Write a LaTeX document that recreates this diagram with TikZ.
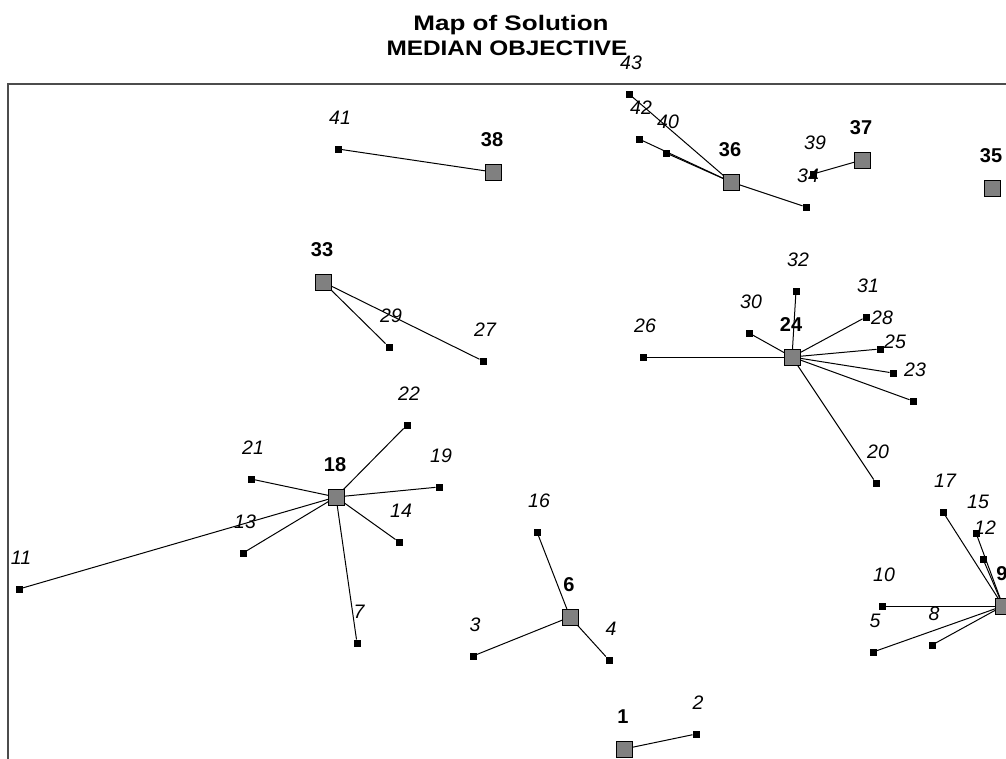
\documentclass[tikz,border=0pt]{standalone}
\usepackage{fontspec}
\setmainfont{Liberation Sans}
\begin{document}
\begin{tikzpicture}[x=1pt,y=-1pt,
  fac/.style={draw=black,line width=1pt,fill=black!50,minimum size=16pt,inner sep=0pt,outer sep=0pt},
  dem/.style={fill=black,minimum size=7pt,inner sep=0pt,outer sep=0pt},
  flab/.style={font=\bfseries\fontsize{20}{22}\selectfont,inner sep=0pt},
  dlab/.style={font=\itshape\fontsize{19.5}{22}\selectfont,inner sep=0pt},
  ttl/.style={font=\bfseries\fontsize{21}{24}\selectfont,inner sep=0pt},
  link/.style={draw=black,line width=1pt},
  frame/.style={draw=black!70,line width=2.2pt}]
\useasboundingbox (0,0) rectangle (1006,758);
\clip (0,0) rectangle (1006,758);
\fill[white] (0,0) rectangle (1006,758);
% title
\node[ttl] (t1) at (511,25) {\scalebox{1.24}[1]{Map of Solution}};
\node[ttl] (t2) at (507,48) {\scalebox{1.16}[1]{MEDIAN OBJECTIVE}};
% frame
\coordinate (fc) at (8,84);
\coordinate (fr) at (1010,84);
\coordinate (fb) at (8,762);
\draw[frame] (fr) -- (fc) -- (fb);
% demand points
\newcommand{\dm}[3]{\node[dem] (d#1) at (#2,#3) {};\node[dlab] (ld#1) at (#2+2,#3-31) {#1};}
\dm{43}{629}{94}
\dm{42}{639}{139}
\dm{40}{666}{153}
\dm{34}{806}{207}
\dm{39}{813}{174}
\dm{41}{338}{149}
\dm{29}{389}{347}
\dm{27}{483}{361}
\dm{32}{796}{291}
\dm{31}{866}{317}
\dm{28}{880}{349}
\dm{25}{893}{373}
\dm{23}{913}{401}
\dm{30}{749}{333}
\dm{26}{643}{357}
\dm{20}{876}{483}
\dm{22}{407}{425}
\dm{21}{251}{479}
\dm{19}{439}{487}
\dm{14}{399}{542}
\dm{13}{243}{553}
\dm{11}{19}{589}
\dm{7}{357}{643}
\dm{16}{537}{532}
\dm{3}{473}{656}
\dm{4}{609}{660}
\dm{2}{696}{734}
\dm{17}{943}{512}
\dm{15}{976}{533}
\dm{12}{983}{559}
\dm{10}{882}{606}
\dm{5}{873}{652}
\dm{8}{932}{645}
% facility coordinates
\newcommand{\fcoord}[3]{\coordinate (c#1) at (#2,#3);}
\fcoord{38}{493}{172}
\fcoord{36}{731}{182}
\fcoord{37}{862}{160}
\fcoord{35}{992}{188}
\fcoord{33}{323}{282}
\fcoord{24}{792}{357}
\fcoord{18}{336}{497}
\fcoord{6}{570}{617}
\fcoord{1}{624}{749}
\fcoord{9}{1003}{606}
% links
\foreach \a/\b in {38/41, 36/43, 36/42, 36/40, 36/34, 37/39,
  33/29, 33/27,
  24/26, 24/30, 24/32, 24/31, 24/28, 24/25, 24/23, 24/20,
  18/11, 18/13, 18/21, 18/22, 18/19, 18/14, 18/7,
  6/16, 6/3, 6/4, 1/2,
  9/17, 9/15, 9/12, 9/10, 9/5, 9/8}
  \draw[link] (c\a) -- (d\b);
% facilities
\newcommand{\fc}[3]{\node[fac] (f#1) at (#2,#3) {};\node[flab] (lf#1) at (#2-1,#3-32) {#1};}
\fc{38}{493}{172}
\fc{36}{731}{182}
\fc{37}{862}{160}
\fc{35}{992}{188}
\fc{33}{323}{282}
\fc{24}{792}{357}
\fc{18}{336}{497}
\fc{6}{570}{617}
\fc{1}{624}{749}
\fc{9}{1003}{606}
\end{tikzpicture}
\end{document}
